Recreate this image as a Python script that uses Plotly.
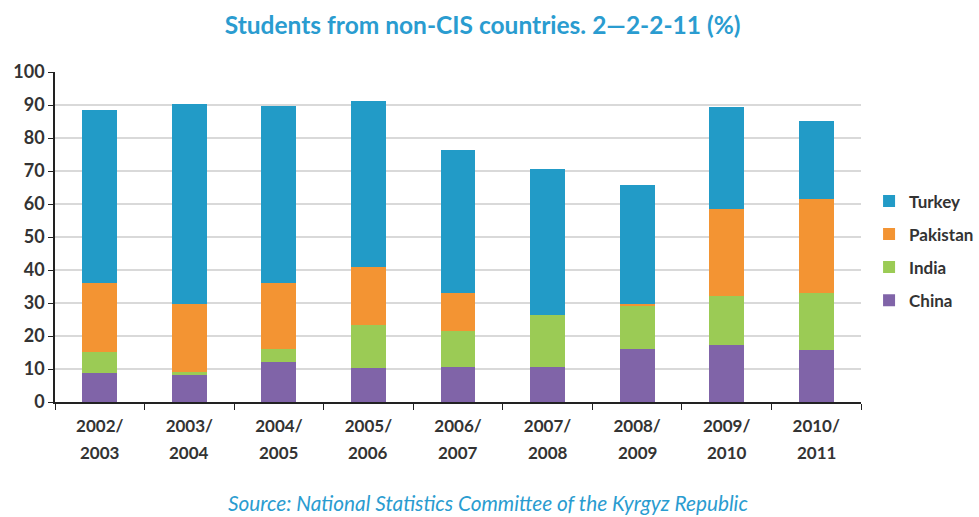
import plotly.graph_objects as go

# Academic years and share of students (%) by country of origin
years = ["2002/2003", "2003/2004", "2004/2005", "2005/2006", "2006/2007",
         "2007/2008", "2008/2009", "2009/2010", "2010/2011"]
china = [8.9, 8.2, 12.0, 10.2, 10.5, 10.7, 16.1, 17.3, 15.9]
india = [6.4, 0.8, 4.0, 13.0, 11.0, 15.8, 13.2, 14.7, 17.1]
pakistan = [20.9, 20.8, 20.2, 17.6, 11.6, 0.0, 0.5, 26.5, 28.6]
turkey = [52.2, 60.4, 53.5, 50.5, 43.2, 44.2, 35.9, 30.9, 23.6]

# stacked bottom to top; legend lists them top to bottom in reverse
series = [
    ("China", china, "#8064A8"),
    ("India", india, "#9BCB55"),
    ("Pakistan", pakistan, "#F39433"),
    ("Turkey", turkey, "#229BC7"),
]

title_blue = "#2A9CD0"
text_gray = "#333333"
base_font = "Lato, Open Sans, sans-serif"

fig = go.Figure()
for i, (name, vals, color) in enumerate(series):
    fig.add_trace(go.Bar(x=years, y=vals, name="<b>" + name + "</b>",
                         legendgroup=name, legendrank=1000 - i,
                         marker_color=color, marker_line_width=0, width=0.39))

fig.update_layout(
    barmode="stack",
    width=979, height=517,
    paper_bgcolor="white", plot_bgcolor="white",
    margin=dict(l=55, r=118, t=72, b=115, autoexpand=False),
    font=dict(family=base_font, size=15, color=text_gray),
    title=dict(text="<b>Students from non-CIS countries. 2—2-2-11 (%)</b>",
               x=0.493, xanchor="center", y=0.95, yanchor="middle",
               font=dict(size=24.5, color=title_blue, family=base_font)),
    legend=dict(traceorder="grouped", x=1.01, xanchor="left", y=0.458,
                yanchor="middle", font=dict(size=17, color=text_gray),
                itemwidth=30, tracegroupgap=8, itemsizing="constant"),
    showlegend=True,
)

fig.update_yaxes(range=[0, 100], dtick=10, showgrid=True, gridcolor="#D9D9D9",
                 gridwidth=1.5, showline=True, linecolor="#222222", linewidth=1.5,
                 ticks="outside", ticklen=5, tickcolor="#222222",
                 tickfont=dict(size=18, color=text_gray, family=base_font),
                 tickprefix="<b>", ticksuffix="</b>", zeroline=False)

# first line of each academic-year label on the axis, second line below it
top_lines = ["<b>" + y.split("/")[0] + "/</b>" for y in years]
bottom_lines = [y.split("/")[1] for y in years]
fig.update_xaxes(showline=True, linecolor="#222222", linewidth=2,
                 ticks="outside", ticklen=6, tickcolor="#222222",
                 tickson="boundaries", tickvals=years, ticktext=top_lines,
                 ticklabelstandoff=8,
                 tickfont=dict(size=17, color=text_gray, family=base_font))
for cat, txt in zip(years, bottom_lines):
    fig.add_annotation(text="<b>" + txt + "</b>", x=cat, xref="x",
                       y=-0.152, yref="paper", yanchor="middle",
                       showarrow=False,
                       font=dict(size=17, color=text_gray, family=base_font))

fig.add_annotation(text="<i>Source: National Statistics Committee of the Kyrgyz Republic</i>",
                   xref="paper", yref="paper", x=0.537, y=-0.305,
                   xanchor="center", yanchor="middle", showarrow=False,
                   font=dict(size=20.8, color=title_blue, family=base_font))

fig.write_html("out.html")
